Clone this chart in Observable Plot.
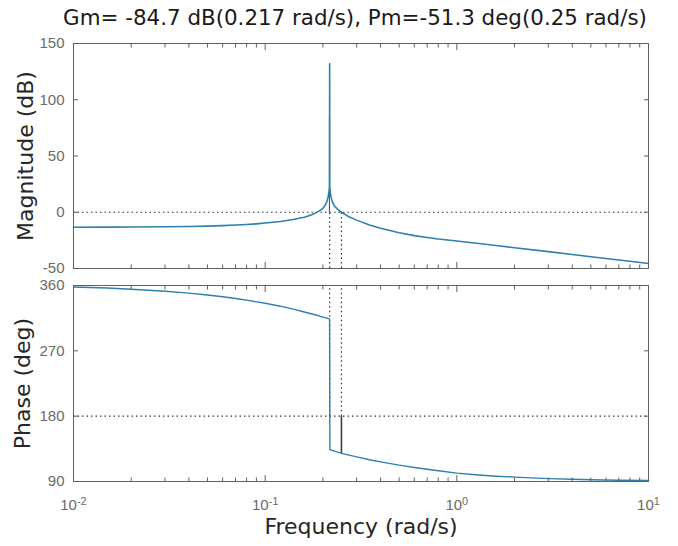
<!DOCTYPE html>
<html>
<head>
<meta charset="utf-8">
<script src="https://cdn.jsdelivr.net/npm/d3@7"></script>
<script src="https://cdn.jsdelivr.net/npm/@observablehq/plot@0.6"></script>
<style>
  body { margin: 0; background: #fff; }
  #wrap { width: 678px; height: 546px; overflow: hidden; background: #fff; }
  #title { width: 678px; height: 36px; line-height: 36px; text-align: center; padding-left: 32px; box-sizing: border-box;
           font-family: "DejaVu Sans", sans-serif; font-size: 21.4px; color: #1a1a1a; white-space: nowrap; }
  svg { display: block; }
</style>
</head>
<body>
<div id="wrap"><div id="title"></div></div>
<script>
// ---- margins read from the title ----
const gmDb = -84.7, gmFreq = 0.217, pmDeg = -51.3, pmFreq = 0.25;

// ---- magnitude response (rad/s, dB) ----
const magFreq = [0.01, 0.015, 0.02, 0.03, 0.04, 0.05, 0.06, 0.07, 0.08, 0.09, 0.1, 0.12, 0.14, 0.16, 0.175, 0.19, 0.2, 0.205, 0.21, 0.213, 0.2155, 0.2167, 0.217, 0.2173, 0.2185, 0.221, 0.225, 0.23, 0.24, 0.25, 0.27, 0.3, 0.35, 0.4, 0.5, 0.6, 0.7, 0.8, 1, 1.3, 1.6, 2, 3, 4, 5, 6, 7, 8, 10];
const magDb   = [-13.3, -13.2, -13.1, -12.9, -12.6, -12.3, -11.9, -11.4, -10.9, -10.3, -9.6, -8.2, -6.5, -4.4, -2.2, 0.8, 3.5, 5.8, 9.5, 13.5, 19, 23, 132, 23, 18, 13, 8.5, 5.5, 2.3, 0, -3.5, -7, -11.3, -14.3, -18.3, -20.8, -22.5, -23.8, -25.6, -27.8, -29.6, -31.5, -35, -37.5, -39.5, -41.1, -42.4, -43.6, -45.5];

// ---- phase response (rad/s, deg) ----
const phaseFreq = [0.01, 0.015, 0.02, 0.03, 0.04, 0.05, 0.06, 0.07, 0.08, 0.1, 0.12, 0.14, 0.16, 0.18, 0.2, 0.2168, 0.2176, 0.25, 0.3, 0.35, 0.4, 0.5, 0.6, 0.7, 0.8, 1, 1.3, 1.6, 2, 3, 4, 5, 7, 10];
const phaseDeg  = [358, 356.5, 354.8, 352, 349.5, 347, 344.5, 342, 339.8, 335.5, 331.5, 327.5, 323.5, 320, 316.5, 314, 134, 128.7, 124, 120, 117, 112.5, 109.3, 106.8, 104.8, 101.5, 99, 97.3, 96, 94, 93, 92.4, 91.7, 91.3];

// ---- ticks ----
const magTicks = [-50, 0, 50, 100, 150];
const phaseTicks = [90, 180, 270, 360];
const xMajorTicks = [0.01, 0.1, 1, 10];
const xMinorMult = [2, 3, 4, 5, 6, 7, 8, 9];
const xMinorTicks = xMajorTicks.slice(0, -1).flatMap(d => xMinorMult.map(k => k * d));

const magData = magFreq.map((f, i) => ({f, v: magDb[i]}));
const phaseData = phaseFreq.map((f, i) => ({f, v: phaseDeg[i]}));

const lineColor = "#2f80ad";
const frameColor = "#606060";
const tickText = "#6a6a6a";
const labelColor = "#262626";
const dotted = {stroke: "#333", strokeWidth: 1.2, strokeDasharray: "1.5,3"};
const tickFont = "Liberation Sans, Arial, sans-serif";
const labelFont = "DejaVu Sans, sans-serif";

document.getElementById("title").textContent =
  `Gm= ${gmDb} dB(${gmFreq} rad/s), Pm=${pmDeg} deg(${pmFreq} rad/s)`;

function frameAxes(yTicks, showXLabels) {
  return [
    Plot.frame({stroke: frameColor}),
    Plot.axisY(yTicks, {anchor: "left", tickSize: -5, fill: "none", stroke: frameColor, label: null}),
    Plot.axisY(yTicks, {anchor: "right", tickSize: -5, fill: "none", stroke: frameColor, label: null}),
    Plot.axisY(yTicks, {anchor: "left", tickSize: 0, tickPadding: 9, tickFormat: d => String(d),
      fill: tickText, fontSize: 15, fontFamily: tickFont, label: null}),
    Plot.axisX(xMajorTicks, {anchor: "bottom", tickSize: -6, fill: "none", stroke: frameColor, label: null}),
    Plot.axisX(xMajorTicks, {anchor: "top", tickSize: -6, fill: "none", stroke: frameColor, label: null}),
    Plot.axisX(xMinorTicks, {anchor: "bottom", tickSize: -3.5, fill: "none", stroke: frameColor, label: null}),
    Plot.axisX(xMinorTicks, {anchor: "top", tickSize: -3.5, fill: "none", stroke: frameColor, label: null}),
    showXLabels ? Plot.axisX(xMajorTicks, {anchor: "bottom", tickSize: 0, tickPadding: 18,
      tickFormat: d => `10^${Math.round(Math.log10(d))}`, fill: tickText, fontSize: 15, fontFamily: tickFont, label: null}) : null
  ];
}

const common = {
  width: 678, marginLeft: 73, marginRight: 30,
  x: {type: "log", domain: [0.01, 10]},
  style: {background: "#fff", overflow: "visible"}
};

const magPlot = Plot.plot({
  ...common,
  height: 240, marginTop: 7, marginBottom: 8,
  y: {domain: [-50, 150]},
  marks: [
    Plot.ruleY([0], dotted),
    Plot.ruleX([gmFreq, pmFreq], {y1: -50, y2: 0, ...dotted}),
    Plot.ruleX([gmFreq], {y1: 0, y2: -gmDb, stroke: "#404040", strokeWidth: 1, dx: -0.25}),
    Plot.line(magData, {x: "f", y: "v", stroke: lineColor, strokeWidth: 1.6}),
    ...frameAxes(magTicks, false),
    Plot.text(["Magnitude (dB)"], {text: d => d, frameAnchor: "left", textAnchor: "middle", rotate: -90, dx: -48,
      fontSize: 22, fontFamily: labelFont, fill: labelColor})
  ]
});

const phasePlot = Plot.plot({
  ...common,
  height: 270, marginTop: 9, marginBottom: 65,
  y: {domain: [90, 360]},
  marks: [
    Plot.ruleY([180], dotted),
    Plot.ruleX([gmFreq, pmFreq], {y1: 180, y2: 360, ...dotted}),
    Plot.ruleX([pmFreq], {y1: 180, y2: 180 + pmDeg, stroke: "#404040", strokeWidth: 1.6}),
    Plot.line(phaseData, {x: "f", y: "v", stroke: lineColor, strokeWidth: 1.4}),
    ...frameAxes(phaseTicks, true),
    Plot.text(["Phase (deg)"], {text: d => d, frameAnchor: "left", textAnchor: "middle", rotate: -90, dx: -51,
      fontSize: 22, fontFamily: labelFont, fill: labelColor}),
    Plot.text(["Frequency (rad/s)"], {text: d => d, frameAnchor: "bottom", dy: 52,
      fontSize: 22, fontFamily: labelFont, fill: labelColor})
  ]
});

// superscript exponents on the frequency tick labels
d3.select(phasePlot).selectAll("text").each(function() {
  const m = /^10\^(-?\d+)$/.exec(this.textContent);
  if (!m) return;
  const el = d3.select(this);
  el.text(null);
  el.append("tspan").text("10");
  el.append("tspan").attr("dy", "-0.5em").attr("font-size", "11px").text(m[1]);
});

const wrap = document.getElementById("wrap");
wrap.appendChild(magPlot);
wrap.appendChild(phasePlot);
</script>
</body>
</html>
